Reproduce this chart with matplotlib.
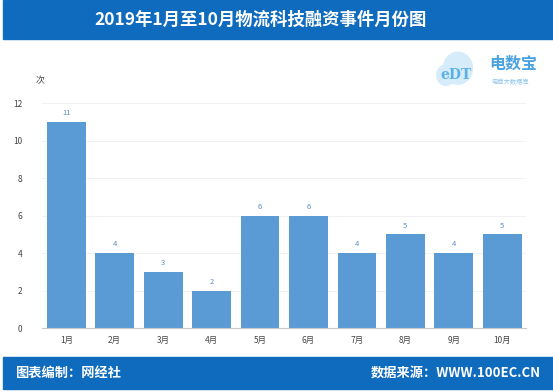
import matplotlib.pyplot as plt
from matplotlib.patches import Rectangle, Ellipse

plt.rcParams['font.family'] = ['Noto Sans CJK SC', 'DejaVu Sans']

months = ['1月', '2月', '3月', '4月', '5月', '6月', '7月', '8月', '9月', '10月']
counts = [11, 4, 3, 2, 6, 6, 4, 5, 4, 5]
title = '2019年1月至10月物流科技融资事件月份图'

blue_bar = '#0F6BBE'
bar_color = '#5B9BD5'

fig = plt.figure(figsize=(5.53, 3.92), dpi=100)

# header and footer bands
fig.patches.append(Rectangle((0.006, 0.900), 0.994, 0.100, transform=fig.transFigure,
                             color=blue_bar, zorder=0))
fig.patches.append(Rectangle((0.006, 0.008), 0.994, 0.081, transform=fig.transFigure,
                             color=blue_bar, zorder=0))
fig.text(0.472, 0.950, title, color='white', fontsize=12.5, fontweight='bold',
         ha='center', va='center')
fig.text(0.027, 0.049, '图表编制：网经社', color='white', fontsize=9.5,
         fontweight='bold', ha='left', va='center')
fig.text(0.978, 0.049, '数据来源：WWW.100EC.CN', color='white', fontsize=9.5,
         fontweight='bold', ha='right', va='center')

# logo (rough approximation)
fig.patches.append(Ellipse((0.828, 0.826), 0.055, 0.085, transform=fig.transFigure,
                           facecolor='#D6ECFA', edgecolor='none', zorder=1))
fig.patches.append(Ellipse((0.806, 0.808), 0.035, 0.055, transform=fig.transFigure,
                           facecolor='#D6ECFA', edgecolor='none', zorder=1))
fig.text(0.796, 0.808, 'eDT', color='#5BB0E8', fontsize=10, fontweight='bold',
         ha='left', va='center', family='DejaVu Serif', zorder=3)
fig.text(0.885, 0.838, '电数宝', color='#4AA3E0', fontsize=11.5, fontweight='bold',
         ha='left', va='center')
fig.text(0.888, 0.790, '电商大数据库', color='#8CC3EA', fontsize=4.5,
         ha='left', va='center')

ax = fig.add_axes([0.076, 0.163, 0.876, 0.574])
x = range(len(months))
ax.bar(x, counts, width=0.8, color=bar_color, zorder=2)
for xi, v in zip(x, counts):
    ax.text(xi, v + 0.25, str(v), ha='center', va='bottom', fontsize=5.5,
            color='#5B8FC8')

ax.set_xlim(-0.5, len(months) - 0.5)
ax.set_ylim(0, 12)
ax.set_yticks(range(0, 13, 2))
ax.set_xticks(list(x))
ax.set_xticklabels(months)
ax.tick_params(axis='both', length=0, labelsize=6, colors='#444444')
ax.tick_params(axis='y', pad=14)
ax.tick_params(axis='x', pad=6)
ax.grid(axis='y', color='#F0F0F0', linewidth=0.6, zorder=0)
for s in ['top', 'right', 'left']:
    ax.spines[s].set_visible(False)
ax.spines['bottom'].set_color('#C8C8C8')
ax.spines['bottom'].set_linewidth(0.8)

fig.text(0.072, 0.795, '次', fontsize=6.5, color='#444444', ha='center', va='center')

fig.savefig('out.png', dpi=100)
